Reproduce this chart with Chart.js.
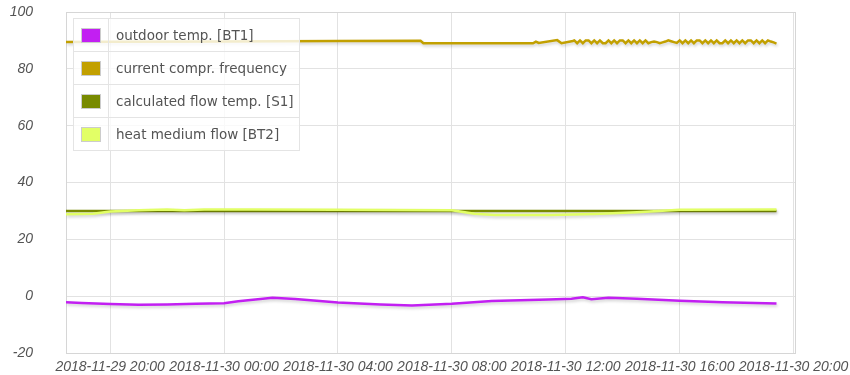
<!DOCTYPE html>
<html>
<head>
<meta charset="utf-8">
<script src="https://cdn.jsdelivr.net/npm/chart.js@4.4.1/dist/chart.umd.min.js"></script>
<style>
    html, body { margin: 0; padding: 0; background: #fff; }
    #wrap { position: relative; width: 850px; height: 375px; }
    #legend {
        position: absolute; left: 73px; top: 18px;
        background: rgba(255, 255, 255, 0.8);
        border-collapse: collapse;
        font-family: 'DejaVu Sans', Verdana, sans-serif;
        font-size: 13.5px; color: #545454;
    }
    #legend td { border: 1px solid #e4e4e4; height: 32px; padding: 0; }
    #legend td.sw { width: 34px; text-align: center; }
    #legend td.sw span {
        display: inline-block; width: 18px; height: 13px;
        border: 1px solid #ccc; vertical-align: middle;
    }
    #legend td.lb { padding: 0 5px 0 7px; white-space: nowrap; }
</style>
</head>
<body>
<div id="wrap">
    <canvas id="chart" width="850" height="375"></canvas>
    <table id="legend"></table>
</div>
<script>
// hours counted from 2018-11-29 00:00
const seriesLabels = ['outdoor temp. [BT1]', 'current compr. frequency', 'calculated flow temp. [S1]', 'heat medium flow [BT2]'];
const seriesColors = ['#c21ff2', '#c2a000', '#788a00', '#e2ff66'];

const outdoorHours = [18.45, 19.0, 20.0, 21.0, 22.0, 23.0, 24.0, 24.5, 25.7, 26.5, 28.0, 29.5, 30.6, 32.0, 33.4, 35.4, 36.2, 36.6, 36.9, 37.5, 38.5, 40.0, 41.5, 43.4];
const outdoorTemp = [-2.1, -2.4, -2.8, -3.0, -2.9, -2.7, -2.5, -1.8, -0.6, -1.0, -2.2, -2.9, -3.3, -2.7, -1.7, -1.2, -0.9, -0.4, -1.1, -0.6, -0.9, -1.6, -2.1, -2.6];

const comprHours = [18.45, 20.0, 24.0, 28.0, 30.9, 31.0, 34.85, 34.95, 35.05, 35.7, 35.85, 36.25,
    36.3, 36.4, 36.5, 36.6, 36.7, 36.8, 36.9, 37.0, 37.1, 37.2, 37.3, 37.4, 37.5, 37.6, 37.7, 37.8, 37.9,
    38.0, 38.1, 38.2, 38.3, 38.4, 38.5, 38.6, 38.7, 38.8, 38.9,
    39.0, 39.1, 39.2, 39.3, 39.4, 39.5, 39.6, 39.7, 39.8, 39.9,
    40.0, 40.1, 40.2, 40.3, 40.4, 40.5, 40.6, 40.7, 40.8, 40.9, 41.0, 41.1, 41.2, 41.3, 41.4, 41.5, 41.6,
    41.7, 41.8, 41.9, 42.0, 42.1, 42.2, 42.3, 42.4, 42.5, 42.6, 42.7, 42.8, 42.9, 43.0, 43.1, 43.2, 43.3,
    43.4];
const comprFreq = [89.4, 89.5, 89.6, 89.8, 89.9, 89.0, 89.0, 89.6, 89.1, 90.1, 89.0, 89.8,
    90, 89, 90, 89, 90, 90, 89, 90, 89, 90, 89, 89, 90, 89, 90, 89, 90,
    90, 89, 90, 89, 90, 89, 90, 89, 90, 89,
    89.4, 89.6, 89.4, 89.0, 89.3, 89.6, 90.0, 89.7, 89.4, 89.1,
    90, 89, 90, 89, 90, 89, 90, 90, 89, 90, 89, 90, 89, 90, 89, 89, 90,
    89, 90, 89, 90, 89, 90, 89, 90, 90, 89, 90, 89, 90, 89, 90, 89.6, 89.3,
    88.9];

const calcFlowHours = [18.45, 24.0, 32.0, 43.4];
const calcFlowTemp = [30.0, 30.0, 30.0, 30.0];

const heatFlowHours = [18.45, 19.4, 20.0, 21.0, 22.0, 22.6, 23.3, 25.0, 28.0, 32.0, 32.8, 33.5, 35.5, 37.0, 38.5, 40.0, 43.4];
const heatFlowTemp = [28.8, 29.0, 29.8, 30.2, 30.5, 30.2, 30.5, 30.5, 30.4, 30.2, 29.0, 28.6, 28.6, 28.9, 29.5, 30.4, 30.5];

const yTicks = [-20, 0, 20, 40, 60, 80, 100];

function toPoints(hours, values) {
    return hours.map((h, i) => ({ x: h, y: values[i] }));
}

function hourLabel(h) {
    const day = h >= 24 ? 30 : 29;
    const hh = String(Math.round(h % 24)).padStart(2, '0');
    return `2018-11-${day} ${hh}:00`;
}

// Flot-like drop shadow under lines
const lineShadow = {
    id: 'lineShadow',
    beforeDatasetDraw(chart) {
        const c = chart.ctx;
        c.save();
        c.shadowColor = 'rgba(0, 0, 0, 0.18)';
        c.shadowBlur = 3;
        c.shadowOffsetX = 1;
        c.shadowOffsetY = 2;
    },
    afterDatasetDraw(chart) {
        chart.ctx.restore();
    },
};

// outer frame of the plot area
const plotFrame = {
    id: 'plotFrame',
    beforeDatasetsDraw(chart) {
        const a = chart.chartArea;
        const c = chart.ctx;
        c.save();
        c.strokeStyle = '#d6d6d6';
        c.lineWidth = 1;
        c.strokeRect(Math.round(a.left) + 0.5, Math.round(a.top) + 0.5, Math.round(a.right - a.left), Math.round(a.bottom - a.top));
        c.restore();
    },
};

const datasets = [
    toPoints(outdoorHours, outdoorTemp),
    toPoints(comprHours, comprFreq),
    toPoints(calcFlowHours, calcFlowTemp),
    toPoints(heatFlowHours, heatFlowTemp),
].map((pts, i) => ({
    label: seriesLabels[i],
    data: pts,
    borderColor: seriesColors[i],
    backgroundColor: seriesColors[i],
    borderWidth: 2.5,
    pointRadius: 0,
    tension: 0,
    order: 3 - i,
}));

const tickFont = { family: "'Liberation Sans', Arial, sans-serif", size: 14, style: 'italic' };

new Chart(document.getElementById('chart'), {
    type: 'line',
    data: { datasets },
    plugins: [lineShadow, plotFrame],
    options: {
        responsive: false,
        animation: false,
        layout: { padding: { top: 12, right: 55, left: 0, bottom: 0 } },
        plugins: { legend: { display: false }, tooltip: { enabled: false } },
        scales: {
            x: {
                type: 'linear',
                min: 18.45,
                max: 44.05,
                grid: { color: '#e2e2e2', drawTicks: false },
                border: { color: '#d6d6d6' },
                ticks: {
                    stepSize: 4,
                    includeBounds: false,
                    autoSkip: false,
                    maxRotation: 0,
                    padding: 6,
                    color: '#545454',
                    font: tickFont,
                    callback: (v) => hourLabel(v),
                },
                afterFit: (s) => {
                    s.height = 22;
                    s.paddingLeft = 0;
                    s.paddingRight = 0;
                },
            },
            y: {
                min: yTicks[0],
                max: yTicks[yTicks.length - 1],
                afterBuildTicks: (s) => { s.ticks = yTicks.map(v => ({ value: v })); },
                grid: { color: '#e2e2e2', drawTicks: false },
                border: { color: '#d6d6d6' },
                ticks: {
                    padding: 33,
                    color: '#545454',
                    font: tickFont,
                },
                afterFit: (s) => {
                    s.width = 66;
                    s.paddingTop = 0;
                    s.paddingBottom = 0;
                },
            },
        },
    },
});

// HTML legend table
const legendEl = document.getElementById('legend');
seriesLabels.forEach((label, i) => {
    const tr = document.createElement('tr');
    tr.innerHTML = `<td class="sw"><span style="background:${seriesColors[i]}"></span></td><td class="lb">${label}</td>`;
    legendEl.appendChild(tr);
});
</script>
</body>
</html>
